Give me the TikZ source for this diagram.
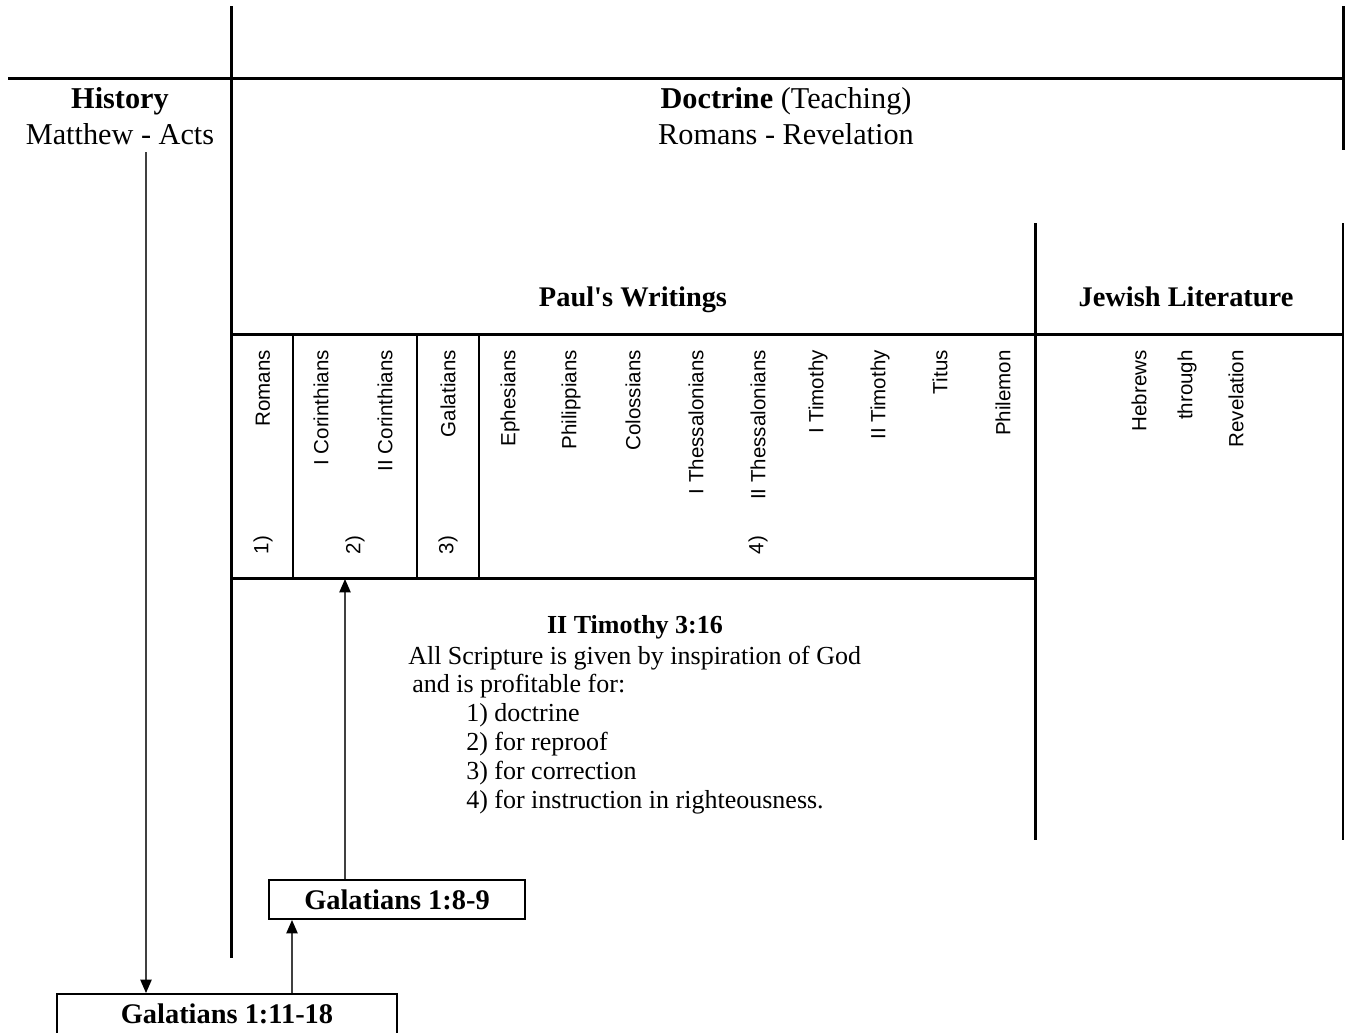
\documentclass[tikz,border=0pt]{standalone}
\usepackage{fontspec}
\setmainfont{Liberation Serif}
\setsansfont{Liberation Sans}
\usetikzlibrary{arrows.meta}
\begin{document}
\begin{tikzpicture}[x=0.75pt,y=-0.75pt,
  thickline/.style={line width=2.25pt},
  midline/.style={line width=1.6pt},
  hdr/.style={font=\fontsize{22.7}{26}\selectfont, anchor=base, inner sep=0},
  sub/.style={font=\bfseries\fontsize{21.3}{24}\selectfont, anchor=base, inner sep=0},
  body/.style={font=\fontsize{19.5}{22}\selectfont, anchor=base west, inner sep=0},
  book/.style={font=\sffamily\fontsize{15.4}{18}\selectfont, rotate=90, anchor=east, inner sep=0},
  num/.style={font=\sffamily\fontsize{15.4}{18}\selectfont, rotate=90, inner sep=0},
  refbox/.style={draw, line width=1.5pt, font=\bfseries\fontsize{21.3}{24}\selectfont, inner sep=0},
  conn/.style={line width=0.9pt, draw=black!75, -{Triangle[length=10pt,width=8.5pt,color=black]}}
]
\useasboundingbox (0,0) rectangle (1349,1032);
\clip (0,0) rectangle (1349,1032);

% structure lines
\draw[thickline] (231,6) -- (231,958);
\draw[thickline] (8,78) -- (1343,78);
\draw[thickline] (1343,6) -- (1343,150);
\draw[thickline] (231,334) -- (1343,334);
\draw[thickline] (1035,223) -- (1035,840);
\draw[midline] (1343,223) -- (1343,840);
\draw[thickline] (231,578) -- (1035,578);
\foreach \xx in {293,417,479} \draw[midline] (\xx,334) -- (\xx,578);

% headers
\node[hdr] (hist) at (120,108) {\textbf{History}};
\node[hdr] (histsub) at (120,144) {Matthew - Acts};
\node[hdr] (doct) at (786,108) {\textbf{Doctrine} (Teaching)};
\node[hdr] (doctsub) at (786,144) {Romans - Revelation};
\node[sub] (paul) at (633,306) {Paul\textquotesingle s Writings};
\node[sub] (jew) at (1186,306) {Jewish Literature};

% book labels
\node[book] (rom) at (263,350) {Romans};
\node[book] (cor1) at (321,350) {I Corinthians};
\node[book] (cor2) at (385,350) {II Corinthians};
\node[book] (gal) at (448,350) {Galatians};
\node[book] (eph) at (510,350) {Ephesians};
\node[book] (phil) at (571,350) {Philippians};
\node[book] (col) at (633,350) {Colossians};
\node[book] (thes1) at (696,350) {I Thessalonians};
\node[book] (thes2) at (758,350) {II Thessalonians};
\node[book] (tim1) at (818,350) {I Timothy};
\node[book] (tim2) at (880,350) {II Timothy};
\node[book] (tit) at (940,350) {Titus};
\node[book] (phm) at (1003,350) {Philemon};
\node[book] (heb) at (1139,350) {Hebrews};
\node[book] (thr) at (1187,350) {through};
\node[book] (rev) at (1236,350) {Revelation};

\node[num] (n1) at (263,545) {1)};
\node[num] (n2) at (355,545) {2)};
\node[num] (n3) at (448,545) {3)};
\node[num] (n4) at (758,545) {4)};

% II Timothy block
\node[font=\bfseries\fontsize{19.5}{22}\selectfont, anchor=base, inner sep=0] (tim) at (635,633) {II Timothy 3:16};
\node[body] (l1) at (408,664) {All Scripture is given by inspiration of God};
\node[body] (l2) at (412,692) {and is profitable for:};
\node[body] (l3) at (466,721) {1) doctrine};
\node[body] (l4) at (466,750) {2) for reproof};
\node[body] (l5) at (466,779) {3) for correction};
\node[body] (l6) at (466,808) {4) for instruction in righteousness.};

% reference boxes
\node[refbox, minimum width=256*0.75pt, minimum height=39*0.75pt] (g89) at (397,899.5) {Galatians 1:8-9};
\node[refbox, minimum width=340*0.75pt, minimum height=40*0.75pt] (g1118) at (227,1014) {Galatians 1:11-18};

% connectors
\coordinate (hstart) at (146,152);
\coordinate (pbottom) at (345,579);
\draw[conn] (hstart) -- (hstart |- g1118.north);
\draw[conn] (g1118.north -| 292,0) -- (g89.south -| 292,0);
\draw[conn] (g89.north -| pbottom) -- (pbottom);
\end{tikzpicture}
\end{document}
